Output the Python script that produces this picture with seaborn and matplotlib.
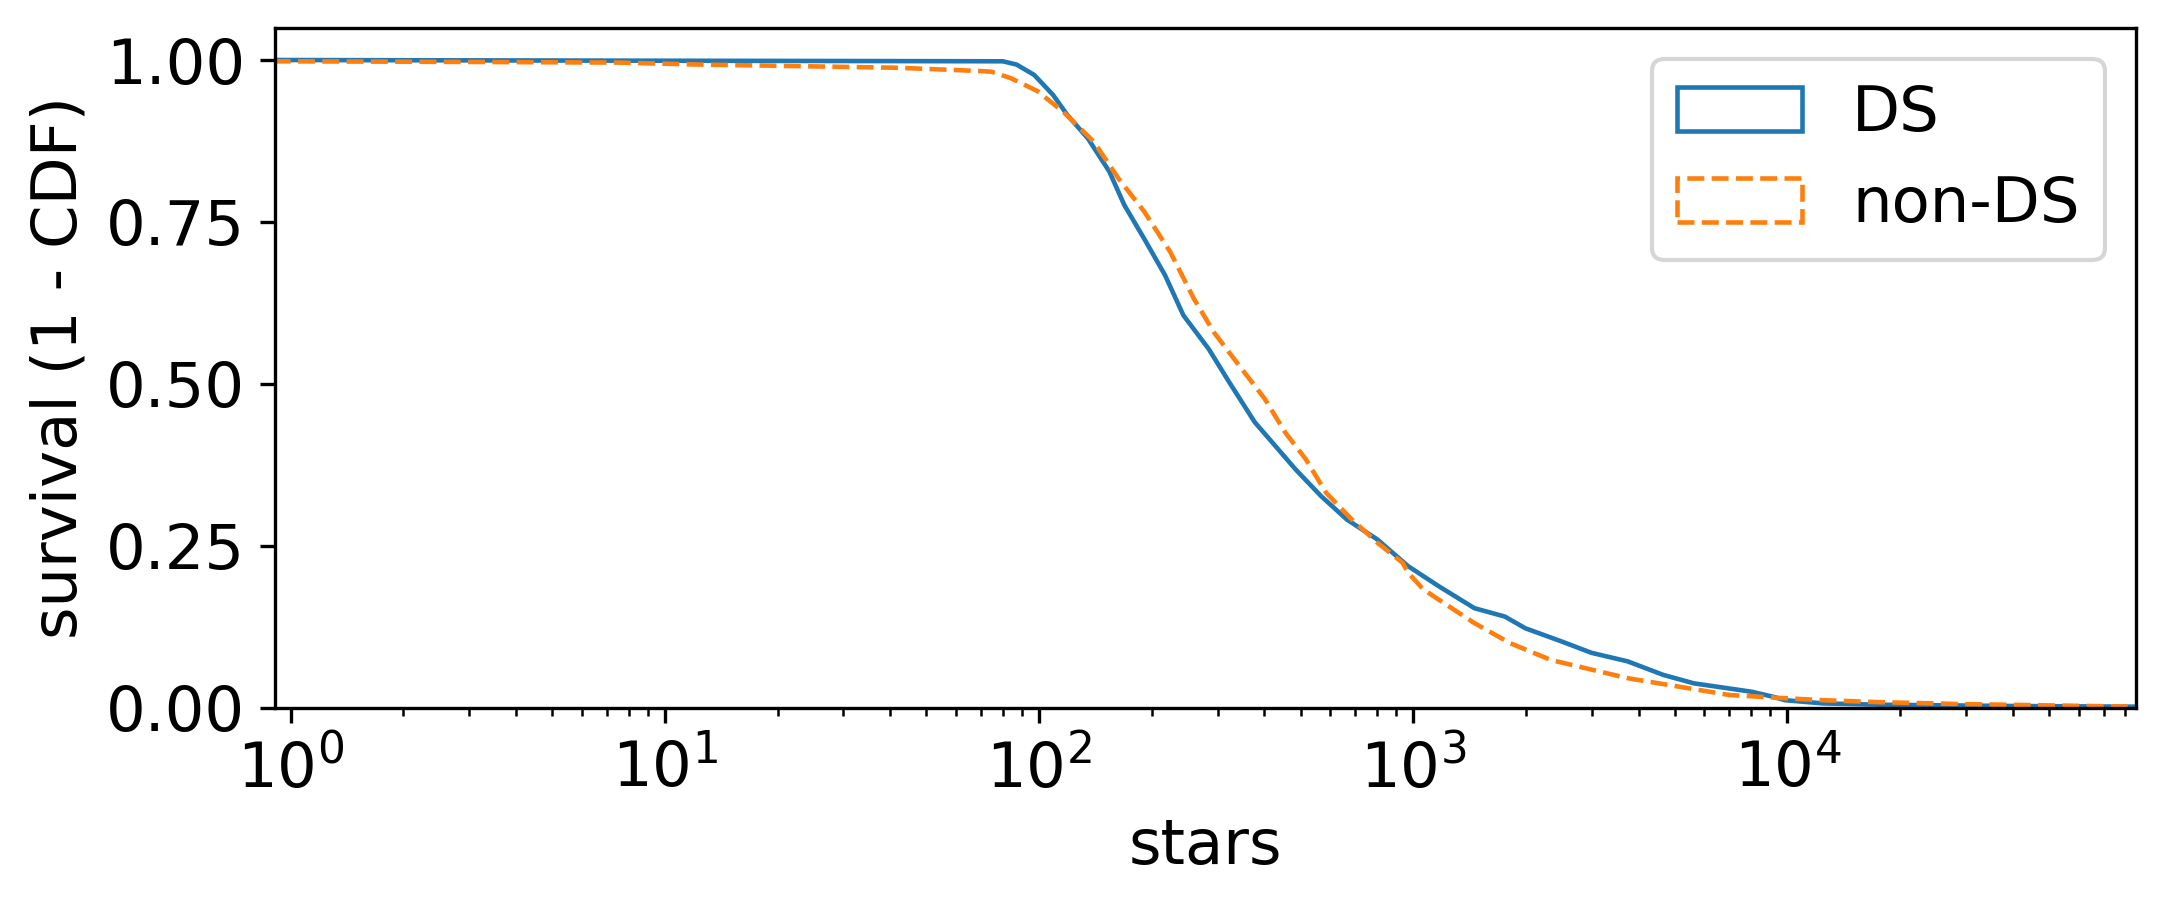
import pandas as pd
import matplotlib
matplotlib.use("Agg")
import matplotlib.pyplot as plt
import matplotlib.patches as mpatches
import seaborn as sns

# survival curves (stars, 1 - CDF)
ds_stars = [0.9, 8, 80, 87, 97, 109, 119, 135, 154, 169, 191, 217, 243, 284,
            322, 377, 427, 485, 567, 664, 802, 968, 1169, 1457, 1758, 1993,
            2482, 2999, 3738, 4660, 5624, 8035, 9200, 9840, 12480, 17530,
            40900, 85000]
ds_survival = [1.0, 0.999, 0.998, 0.993, 0.977, 0.946, 0.915, 0.879, 0.828,
               0.776, 0.724, 0.668, 0.606, 0.554, 0.503, 0.441, 0.405, 0.368,
               0.327, 0.291, 0.260, 0.219, 0.188, 0.154, 0.141, 0.123, 0.103,
               0.085, 0.072, 0.051, 0.038, 0.025, 0.017, 0.012, 0.007, 0.005,
               0.003, 0.002]

nonds_stars = [0.9, 3, 7.5, 12.3, 33, 42, 69.5, 74.5, 84, 99, 116, 140, 163,
               191, 224, 259, 293, 343, 401, 455, 516, 585, 685, 802, 937,
               968, 1064, 1244, 1457, 1815, 2334, 2906, 3738, 5117, 7003,
               9894, 12480, 17530, 29100, 85000]
nonds_survival = [0.998, 0.997, 0.996, 0.993, 0.989, 0.988, 0.983, 0.982,
                  0.972, 0.952, 0.920, 0.874, 0.817, 0.766, 0.704, 0.632,
                  0.580, 0.528, 0.477, 0.425, 0.384, 0.332, 0.291, 0.255,
                  0.224, 0.209, 0.183, 0.157, 0.131, 0.100, 0.074, 0.061,
                  0.046, 0.033, 0.020, 0.015, 0.012, 0.009, 0.006, 0.002]

groups = ["DS", "non-DS"]
colors = {"DS": "#1f77b4", "non-DS": "#ff7f0e"}

df = pd.concat([
    pd.DataFrame({"stars": ds_stars, "survival": ds_survival, "group": "DS"}),
    pd.DataFrame({"stars": nonds_stars, "survival": nonds_survival, "group": "non-DS"}),
], ignore_index=True)

plt.rcParams["font.size"] = 15
fig, ax = plt.subplots(figsize=(2164 / 300, 908 / 300), dpi=300)
fig.subplots_adjust(left=0.1269, right=0.9871, bottom=0.2203, top=0.9696)

sns.lineplot(
    data=df, x="stars", y="survival", hue="group", style="group",
    palette=colors, dashes={"DS": "", "non-DS": (3.7, 1.6)},
    estimator=None, sort=False, linewidth=1.1, legend=False, ax=ax,
)

ax.set_xscale("log")
ax.set_xlim(0.905, 85500)
ax.set_ylim(0, 1.05)
ax.set_yticks([0.0, 0.25, 0.5, 0.75, 1.0])
ax.set_xlabel("stars", fontsize=15)
ax.set_ylabel("survival (1 - CDF)", fontsize=15)
ax.tick_params(labelsize=15)

# legend uses outlined rectangles
handles = [
    mpatches.Patch(facecolor="none", edgecolor=colors["DS"], linewidth=1.1,
                   linestyle="-", label="DS"),
    mpatches.Patch(facecolor="none", edgecolor=colors["non-DS"], linewidth=1.1,
                   linestyle="--", label="non-DS"),
]
ax.legend(handles=handles, loc="upper right", fontsize=15)

plt.savefig("out.png", dpi=300)
plt.close()
